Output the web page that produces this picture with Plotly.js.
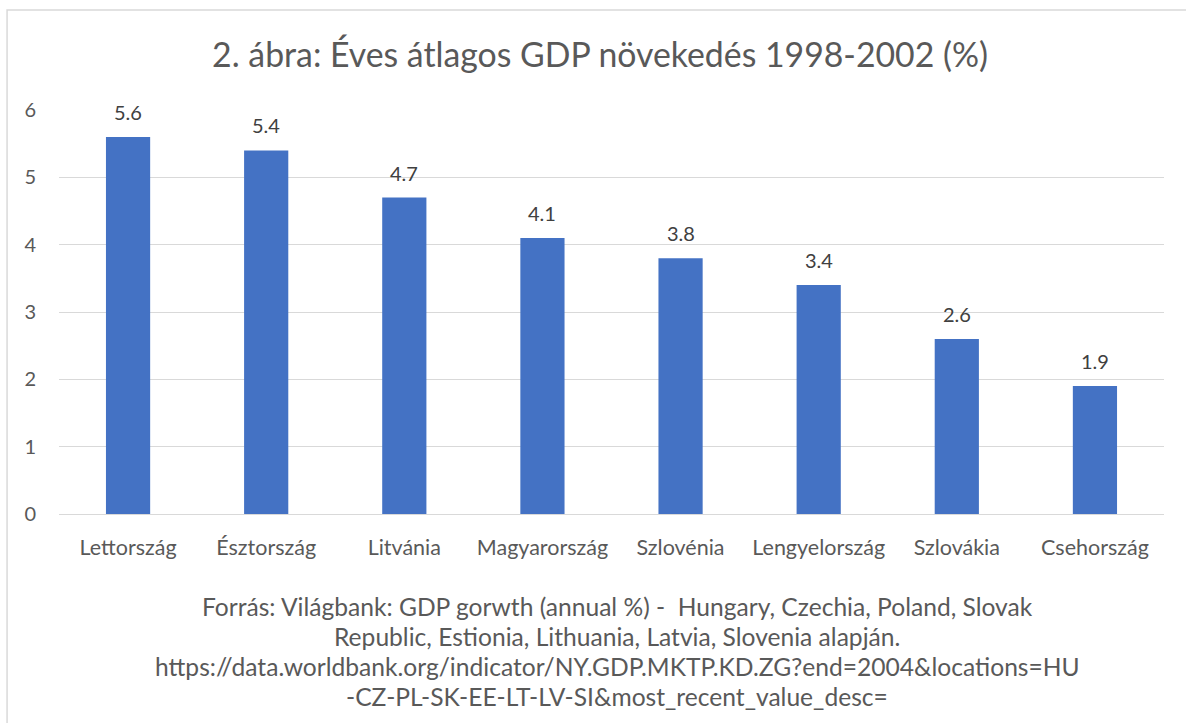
<!DOCTYPE html>
<html>
<head>
<meta charset="utf-8">
<script src="https://cdn.plot.ly/plotly-3.0.1.min.js"></script>
<style>html,body{margin:0;padding:0;background:#fff;}#chart{width:1186px;height:723px;}</style>
</head>
<body>
<div id="chart"></div>
<script>
const categories = ["Lettország","Észtország","Litvánia","Magyarország","Szlovénia","Lengyelország","Szlovákia","Csehország"];
const values = [5.6, 5.4, 4.7, 4.1, 3.8, 3.4, 2.6, 1.9];
const valueLabels = ["5.6","5.4","4.7","4.1","3.8","3.4","2.6","1.9"];
const yTicks = [0,1,2,3,4,5,6];
const titleText = "2. ábra: Éves átlagos GDP növekedés 1998-2002 (%)";
const sourceLines = [
  "Forrás: Világbank: GDP gorwth (annual %) -  Hungary, Czechia, Poland, Slovak",
  "Republic, Estionia, Lithuania, Latvia, Slovenia alapján.",
  "https://data.worldbank.org/indicator/NY.GDP.MKTP.KD.ZG?end=2004&locations=HU",
  "-CZ-PL-SK-EE-LT-LV-SI&most_recent_value_desc="
];

const font = "Lato, 'Open Sans', sans-serif";
const trace = {
  type: "bar",
  x: categories,
  y: values,
  marker: {color: "#4472C4"},
  width: 0.32,
  hoverinfo: "x+y"
};

const labelAnnotations = categories.map((c, i) => ({
  xref: "x", yref: "y", x: c, y: values[i], text: valueLabels[i],
  showarrow: false, xanchor: "center", yanchor: "bottom", yshift: 11,
  font: {family: font, size: 20, color: "#404040"}
}));

const sourceAnnotations = sourceLines.map((t, i) => ({
  xref: "paper", yref: "paper", x: 0.505, y: (514 - (606 + 30 * i)) / 404,
  xanchor: "center", yanchor: "middle", showarrow: false, text: t,
  font: {family: font, size: 24.6, color: "#595959"}
}));

const layout = {
  width: 1186, height: 723,
  margin: {l: 59, r: 22, t: 110, b: 209},
  paper_bgcolor: "#fff", plot_bgcolor: "#fff",
  font: {family: font, color: "#595959"},
  title: {text: titleText, font: {family: font, size: 33.8, color: "#595959"},
          x: 0.506, xanchor: "center", y: 0.924, yanchor: "middle", xref: "container", yref: "container"},
  showlegend: false,
  xaxis: {
    type: "category",
    tickfont: {family: font, size: 21.5, color: "#595959"},
    showgrid: false, zeroline: false, showline: false,
    ticks: "", ticklabelstandoff: 18
  },
  yaxis: {
    range: [0, 6], tickvals: yTicks, ticktext: yTicks.map(String),
    tickfont: {family: font, size: 20, color: "#595959"},
    showgrid: true, gridcolor: "#d9d9d9", gridwidth: 1,
    zeroline: true, zerolinecolor: "#d9d9d9", zerolinewidth: 1,
    showline: false, ticks: "", ticklabelstandoff: 22
  },
  annotations: labelAnnotations.concat(sourceAnnotations),
  shapes: [{
    type: "rect", xref: "paper", yref: "paper",
    x0: -0.047, x1: 1.05, y0: -0.55, y1: 1.2475,
    line: {color: "#d9d9d9", width: 1.5}, fillcolor: "rgba(0,0,0,0)", layer: "below"
  }]
};

Plotly.newPlot("chart", [trace], layout, {displayModeBar: false, staticPlot: true});
</script>
</body>
</html>
